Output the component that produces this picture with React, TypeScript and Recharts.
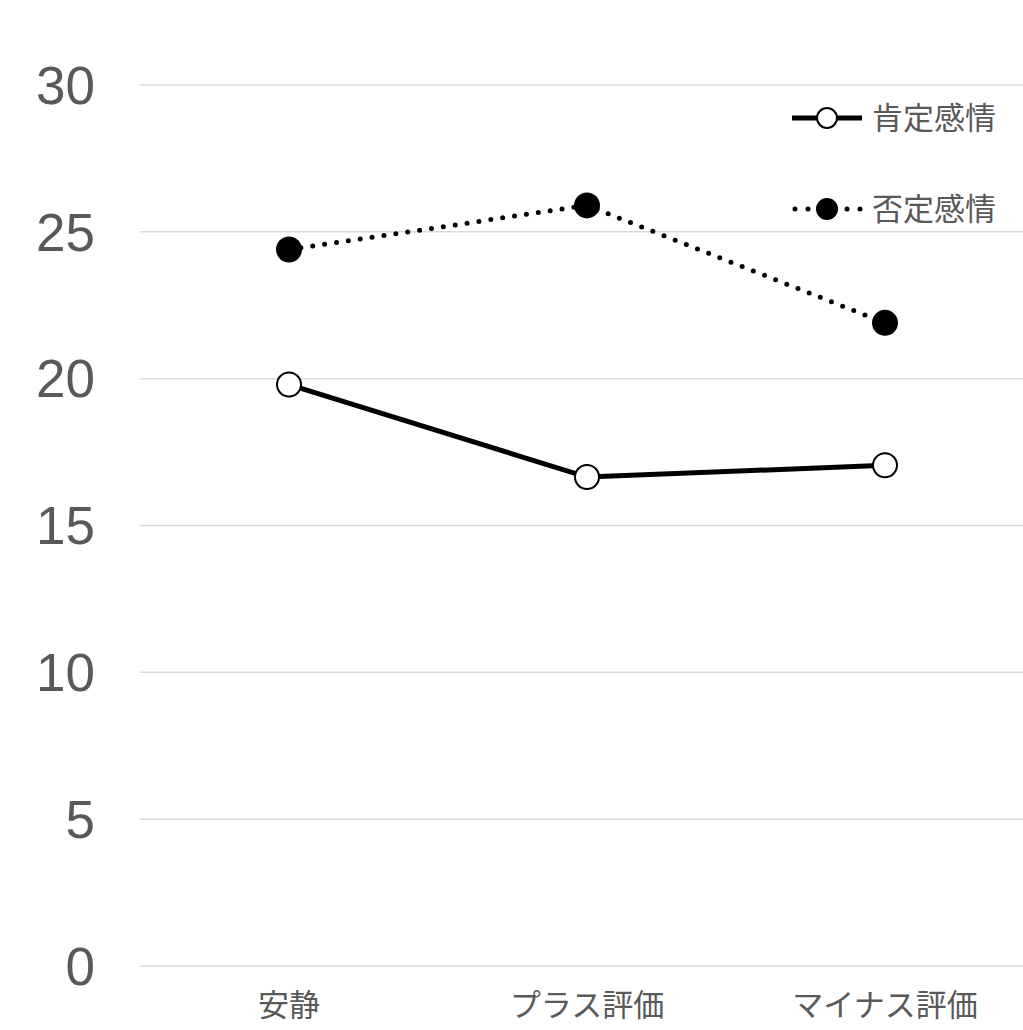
import { LineChart, Line, XAxis, YAxis, CartesianGrid } from 'recharts'

const categories = ['安静', 'プラス評価', 'マイナス評価']
const positive = [19.8, 16.65, 17.05]
const negative = [24.4, 25.9, 21.9]
const yTicks = [0, 5, 10, 15, 20, 25, 30]
const seriesNames = ['肯定感情', '否定感情']

const data = categories.map((c, i) => ({ name: c, pos: positive[i], neg: negative[i] }))

const FONT = '"Liberation Sans", Arial, "Noto Sans CJK JP", sans-serif'
const JP_FONT = '"Noto Sans CJK JP", "Liberation Sans", sans-serif'
const TEXT = '#595959'

function LegendBox() {
    return (
        <svg width={233} height={130} style={{ display: 'block', overflow: 'visible' }}>
            {/* row 1: solid line, open marker */}
            <line x1={2} y1={23} x2={72} y2={23} stroke="#000" strokeWidth={5} />
            <circle cx={37} cy={23} r={10} fill="#fff" stroke="#000" strokeWidth={2} />
            <text x={82} y={23} dy="0.35em" fontSize={31} fill={TEXT} fontFamily={JP_FONT}>{seriesNames[0]}</text>
            {/* row 2: dotted line, filled marker */}
            <line x1={5} y1={114} x2={72} y2={114} stroke="#000" strokeWidth={5} strokeDasharray="0 13" strokeLinecap="round" />
            <circle cx={37} cy={114} r={11} fill="#000" />
            <text x={82} y={114} dy="0.35em" fontSize={31} fill={TEXT} fontFamily={JP_FONT}>{seriesNames[1]}</text>
        </svg>
    )
}

export default function App() {
    return (
        <div style={{ position: 'absolute', left: 0, top: 0, width: 1023, height: 1030, overflow: 'hidden', background: '#fff' }}>
            <LineChart width={1034} height={1030} data={data} margin={{ top: 85, right: 0, bottom: 0, left: 0 }}>
                <CartesianGrid vertical={false} stroke="#d9d9d9" strokeWidth={1.5} />
                <XAxis
                    dataKey="name"
                    axisLine={false}
                    tickLine={false}
                    tickSize={0}
                    tickMargin={28}
                    height={64}
                    interval={0}
                    padding={{ left: 149, right: 149 }}
                    tick={{ fill: TEXT, fontSize: 31, fontFamily: JP_FONT }}
                />
                <YAxis
                    domain={[0, 30]}
                    ticks={yTicks}
                    width={140}
                    axisLine={false}
                    tickLine={false}
                    tickSize={0}
                    tickMargin={45}
                    tick={{ fill: TEXT, fontSize: 53, fontFamily: FONT }}
                />
                <Line
                    dataKey="neg"
                    name={seriesNames[1]}
                    stroke="#000"
                    strokeWidth={5}
                    strokeDasharray="0 12"
                    strokeLinecap="round"
                    dot={{ r: 13, fill: '#000', stroke: '#000', strokeWidth: 0, strokeDasharray: '' }}
                    isAnimationActive={false}
                />
                <Line
                    dataKey="pos"
                    name={seriesNames[0]}
                    stroke="#000"
                    strokeWidth={5}
                    dot={{ r: 12, fill: '#fff', stroke: '#000', strokeWidth: 2 }}
                    isAnimationActive={false}
                />
            </LineChart>
            <div style={{ position: 'absolute', left: 790, top: 95 }}>
                <LegendBox />
            </div>
        </div>
    )
}
